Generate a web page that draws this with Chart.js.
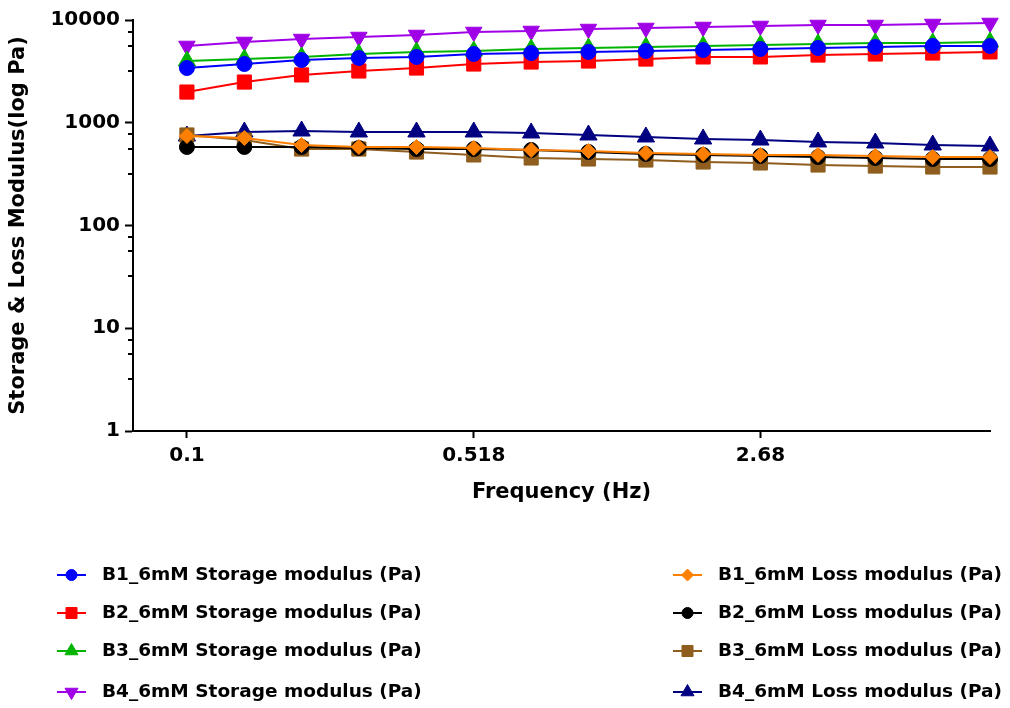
<!DOCTYPE html>
<html>
<head>
<meta charset="utf-8">
<script src="https://cdn.jsdelivr.net/npm/chart.js@4/dist/chart.umd.min.js"></script>
<style>
	html, body { margin: 0; padding: 0; background: #fff; }
	#wrap { width: 1010px; height: 708px; }
</style>
</head>
<body>
<div id="wrap"><canvas id="chart"></canvas></div>
<script>
// frequency sweep points (Hz)
const freqHz = [0.1, 0.139, 0.193, 0.268, 0.373, 0.518, 0.72, 1, 1.39, 1.93, 2.68, 3.73, 5.18, 7.2, 10];
const xTickValues = [0.1, 0.518, 2.68];
const xTickLabels = ['0.1', '0.518', '2.68'];
const yTickValues = [1, 10, 100, 1000, 10000];
const yTickLabels = ['1', '10', '100', '1000', '10000'];
const yMinorSteps = [3.2, 5.6, 7.7];

const b1Storage = [3410, 3730, 4080, 4270, 4370, 4670, 4770, 4890, 4990, 5110, 5220, 5340, 5460, 5590, 5590];
const b2Storage = [1990, 2490, 2920, 3190, 3410, 3730, 3900, 3990, 4170, 4370, 4370, 4560, 4670, 4770, 4890];
const b3Storage = [3990, 4170, 4370, 4670, 4890, 4990, 5220, 5340, 5460, 5590, 5710, 5840, 5970, 5970, 6110];
const b4Storage = [5590, 6110, 6530, 6830, 7150, 7640, 7820, 8170, 8360, 8550, 8740, 8940, 8940, 9140, 9350];
const b1Loss = [743, 711, 607, 581, 581, 568, 543, 531, 508, 497, 486, 486, 475, 464, 464];
const b2Loss = [581, 581, 581, 568, 555, 555, 543, 519, 497, 486, 475, 464, 454, 444, 444];
const b3Loss = [760, 679, 555, 555, 519, 486, 454, 444, 434, 415, 406, 388, 379, 371, 371];
const b4Loss = [743, 813, 831, 813, 813, 813, 795, 760, 727, 695, 679, 650, 635, 607, 594];

const FONT = '"DejaVu Sans", "Liberation Sans", Arial, sans-serif';

function series(label, values, color, style, radius, rotation, legendRadius) {
	return {
		label,
		data: freqHz.map((f, i) => ({ x: f, y: values[i] })),
		borderColor: color,
		backgroundColor: color,
		borderWidth: 2,
		pointStyle: style,
		pointRadius: radius,
		pointHoverRadius: radius,
		pointRotation: rotation,
		pointBorderWidth: 1,
		pointBorderColor: color,
		pointBackgroundColor: color,
		tension: 0,
		clip: false,
		legendRadius,
	};
}

const datasets = [
	series('B1_6mM Storage modulus (Pa)', b1Storage, '#0000ff', 'circle', 7.5, 0, 5.5),
	series('B2_6mM Storage modulus (Pa)', b2Storage, '#ff0000', 'rect', 10, 0, 7.8),
	series('B3_6mM Storage modulus (Pa)', b3Storage, '#00b400', 'triangle', 10, 0, 7.5),
	series('B4_6mM Storage modulus (Pa)', b4Storage, '#a000e6', 'triangle', 9.5, 180, 7.5),
	series('B1_6mM Loss modulus (Pa)', b1Loss, '#ff8000', 'rectRot', 7.5, 0, 6),
	series('B2_6mM Loss modulus (Pa)', b2Loss, '#000000', 'circle', 7.5, 0, 5.5),
	series('B3_6mM Loss modulus (Pa)', b3Loss, '#8f5e1e', 'rect', 10, 0, 7.8),
	series('B4_6mM Loss modulus (Pa)', b4Loss, '#000080', 'triangle', 10, 0, 7.5),
];

// two-column legend under the plot
const legendPlugin = {
	id: 'twoColLegend',
	afterDraw(chart) {
		const ctx = chart.ctx;
		const colLine = [57, 673];
		const colText = [102, 718];
		const rowY = [575, 613, 651, 692];
		chart.data.datasets.forEach((ds, i) => {
			const col = i < 4 ? 0 : 1;
			const y = rowY[i % 4];
			const x0 = colLine[col];
			ctx.save();
			ctx.strokeStyle = ds.borderColor;
			ctx.fillStyle = ds.borderColor;
			ctx.lineWidth = 2;
			ctx.beginPath();
			ctx.moveTo(x0, y);
			ctx.lineTo(x0 + 29, y);
			ctx.stroke();
			ctx.lineWidth = 1;
			Chart.helpers.drawPoint(ctx, {
				pointStyle: ds.pointStyle,
				rotation: ds.pointRotation,
				radius: ds.legendRadius,
				borderWidth: 1,
			}, x0 + 14.5, y);
			ctx.fillStyle = '#000';
			ctx.font = 'bold 18.5px ' + FONT;
			ctx.textBaseline = 'middle';
			ctx.textAlign = 'left';
			ctx.fillText(ds.label, colText[col], y);
			ctx.restore();
		});
	},
};

// short unlabeled minor ticks on the log y axis
const minorTickPlugin = {
	id: 'minorTicks',
	afterDraw(chart) {
		const ctx = chart.ctx;
		const ys = chart.scales.y;
		const left = chart.chartArea.left;
		ctx.save();
		ctx.strokeStyle = '#000';
		ctx.lineWidth = 2;
		for (let d = 1; d < 10000; d *= 10) {
			yMinorSteps.forEach((m) => {
				const py = Math.round(ys.getPixelForValue(d * m));
				ctx.beginPath();
				ctx.moveTo(left - 5, py);
				ctx.lineTo(left, py);
				ctx.stroke();
			});
		}
		ctx.restore();
	},
};

new Chart(document.getElementById('chart'), {
	type: 'line',
	data: { datasets },
	options: {
		responsive: true,
		maintainAspectRatio: false,
		animation: false,
		devicePixelRatio: 1,
		layout: { padding: { left: 0, right: 20, top: 20, bottom: 203 } },
		plugins: {
			legend: { display: false },
			tooltip: { enabled: false },
		},
		scales: {
			x: {
				type: 'logarithmic',
				min: 0.0734,
				max: 10,
				afterBuildTicks: (scale) => {
					scale.ticks = xTickValues.map((v) => ({ value: v }));
				},
				afterFit: (scale) => { scale.height = 74; },
				ticks: {
					color: '#000',
					font: { family: FONT, size: 20, weight: 'bold' },
					padding: 6,
					maxRotation: 0,
					autoSkip: false,
					callback: (v) => xTickLabels[xTickValues.indexOf(v)] ?? '',
				},
				grid: {
					drawOnChartArea: false,
					drawTicks: true,
					tickLength: 7,
					tickWidth: 2,
					tickColor: '#000',
				},
				border: { display: true, color: '#000', width: 2 },
				title: {
					display: true,
					text: 'Frequency (Hz)',
					color: '#000',
					font: { family: FONT, size: 21, weight: 'bold' },
					padding: 0,
				},
			},
			y: {
				type: 'logarithmic',
				min: 1,
				max: 10000,
				afterBuildTicks: (scale) => {
					scale.ticks = yTickValues.map((v) => ({ value: v, major: true }));
				},
				afterFit: (scale) => { scale.width = 133; },
				ticks: {
					color: '#000',
					font: { family: FONT, size: 20, weight: 'bold' },
					padding: 5,
					autoSkip: false,
					callback: (v) => yTickLabels[yTickValues.indexOf(v)] ?? '',
				},
				grid: {
					drawOnChartArea: false,
					drawTicks: true,
					tickLength: 8,
					tickWidth: 2,
					tickColor: '#000',
				},
				border: { display: true, color: '#000', width: 2 },
				title: {
					display: true,
					text: 'Storage & Loss Modulus(log Pa)',
					color: '#000',
					font: { family: FONT, size: 21, weight: 'bold' },
					padding: { top: 6, bottom: 0 },
				},
			},
		},
	},
	plugins: [legendPlugin, minorTickPlugin],
});
</script>
</body>
</html>
